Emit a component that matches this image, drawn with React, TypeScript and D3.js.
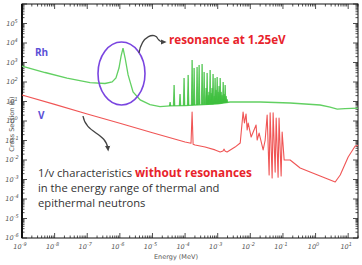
import React from 'react';
import * as d3 from 'd3';

// Rh-103 smooth cross section (energy in MeV, cross section in barn)
const rhEnergy = [1e-9, 5.1e-9, 2.4e-8, 1.22e-7, 3.5e-7, 5.8e-7, 7.6e-7, 9.4e-7, 1.09e-6, 1.25e-6, 1.45e-6, 1.79e-6, 2.54e-6, 4.2e-6, 8.4e-6, 1.7e-5, 3.5e-5, 1e-4, 1e-3, 2.4e-3, 2e-2, 0.166, 1.38, 2.8, 4.6, 8, 20];
const rhSigma = [660, 307, 160, 94, 84, 100, 160, 520, 2150, 5500, 1700, 230, 31, 12, 7.0, 5.5, 5.9, 6.2, 7.5, 9.4, 9.4, 8.4, 6.6, 5.2, 4.1, 4.3, 4.6];

// Rh-103 resolved resonance peaks (energy MeV, peak barn)
const rhPeakEnergy = [3.47e-5, 4.6e-5, 7.0e-5, 9.3e-5, 1.24e-4, 1.64e-4, 1.89e-4, 2.33e-4, 2.69e-4, 3.32e-4, 3.83e-4, 4.4e-4, 4.73e-4, 5.08e-4, 5.4e-4, 5.85e-4, 6.28e-4, 6.7e-4, 7.2e-4, 7.76e-4, 8.3e-4, 8.9e-4, 9.6e-4, 1.03e-3, 1.1e-3, 1.19e-3, 1.27e-3, 1.36e-3, 1.47e-3, 1.57e-3, 1.69e-3, 1.81e-3, 1.94e-3];
const rhPeakSigma = [9.4, 70, 24, 160, 229, 1340, 523, 588, 745, 837, 326, 49, 290, 21, 31, 412, 27, 49, 257, 19, 160, 39, 180, 31, 62, 160, 31, 21, 100, 24, 70, 19, 13];

// V-51 cross section (energy MeV, barn)
const vEnergy = [1e-9, 1e-8, 1e-7, 1e-6, 1e-5, 1e-4, 1.52e-4, 1.64e-4, 1.76e-4, 2.03e-4, 4.1e-4, 8.3e-4, 1.19e-3, 1.45e-3, 1.57e-3, 1.7e-3, 1.94e-3, 3.4e-3, 4.9e-3, 6.0e-3, 6.6e-3, 7.4e-3, 8.0e-3, 8.6e-3, 1.06e-2, 1.5e-2, 1.62e-2, 1.86e-2, 2.47e-2, 2.84e-2, 3.28e-2, 3.77e-2, 4.05e-2, 4.66e-2, 5.0e-2, 5.77e-2, 6.2e-2, 7.1e-2, 7.6e-2, 8.8e-2, 9.45e-2, 0.109, 0.166, 0.337, 0.68, 1.97, 4.0, 5.7, 10, 16.4, 20];
const vSigma = [21.5, 7.1, 2.3, 0.77, 0.25, 0.083, 0.072, 2.9, 0.065, 0.059, 0.046, 0.033, 0.026, 0.029, 0.036, 0.028, 0.026, 0.046, 0.074, 2.9, 0.8, 2.3, 0.35, 0.79, 0.15, 0.62, 0.106, 0.24, 0.033, 0.1, 2.0, 0.0017, 2.6, 0.0012, 2.6, 0.0024, 1.4, 0.0013, 1.4, 0.0015, 0.27, 0.01, 0.01, 0.0039, 0.0024, 0.0012, 0.00074, 0.0017, 0.0143, 0.052, 0.055];

const xTickExps = [-9, -8, -7, -6, -5, -4, -3, -2, -1, 0, 1];
const yTickExps = [-6, -5, -4, -3, -2, -1, 0, 1, 2, 3, 4, 5];

const W = 362;
const H = 265;
const left = 22, right = 358, top = 4, bottom = 238;

const x = d3.scaleLog().domain([1e-9, 20]).range([left, right]);
const y = d3.scaleLog().domain([1e-6, 1e6]).range([bottom, top]);

const minorValues = (lo: number, hi: number) => {
  const out: number[] = [];
  for (let e = Math.floor(Math.log10(lo)); e <= Math.ceil(Math.log10(hi)); e++) {
    for (let m = 1; m < 10; m++) {
      const v = m * Math.pow(10, e);
      if (v >= lo && v <= hi) out.push(v);
    }
  }
  return out;
};

export default function App() {
  const line = d3.line<[number, number]>()
    .x(d => x(d[0]))
    .y(d => y(d[1]));

  const rhPts = rhEnergy.map((e, i) => [e, rhSigma[i]] as [number, number]);
  const vPts = vEnergy.map((e, i) => [e, vSigma[i]] as [number, number]);
  const rhBase = d3.scaleLog().domain(rhEnergy).range(rhSigma);

  const xMinor = minorValues(1e-9, 20);
  const yMinor = minorValues(1e-6, 1e6);
  const tickColor = '#222';
  const labelFont = 'DejaVu Sans, sans-serif';

  return (
    <svg width={W} height={H} style={{ position: 'absolute', left: 0, top: 0, background: '#fff' }}>
      <defs>
        <marker id="ah" viewBox="0 0 10 10" refX="5" refY="5" markerWidth="5" markerHeight="5" orient="auto">
          <path d="M0,1 L9,5 L0,9 z" fill="#444" />
        </marker>
      </defs>

      {/* ticks */}
      {xMinor.map((v, i) => {
        const major = Math.abs(Math.log10(v) - Math.round(Math.log10(v))) < 1e-6;
        const len = major ? 5 : 2.5;
        return (
          <g key={'xt' + i} stroke={tickColor} strokeWidth={0.8}>
            <line x1={x(v)} x2={x(v)} y1={bottom} y2={bottom - len} />
            <line x1={x(v)} x2={x(v)} y1={top} y2={top + len} />
          </g>
        );
      })}
      {yMinor.map((v, i) => {
        const major = Math.abs(Math.log10(v) - Math.round(Math.log10(v))) < 1e-6;
        const len = major ? 5 : 2.5;
        return (
          <g key={'yt' + i} stroke={tickColor} strokeWidth={0.8}>
            <line x1={left} x2={left + len} y1={y(v)} y2={y(v)} />
            <line x1={right} x2={right - len} y1={y(v)} y2={y(v)} />
          </g>
        );
      })}

      {/* frame */}
      <rect x={left} y={top} width={right - left} height={bottom - top} fill="none" stroke="#111" strokeWidth={1} />
      <line x1={left} x2={left} y1={top} y2={bottom} stroke="#111" strokeWidth={2} />

      {/* tick labels */}
      {xTickExps.map(e => (
        <text key={'xl' + e} x={x(Math.pow(10, e)) - 2} y={249} fontSize={6.5} fontStyle="italic"
          fill="#555" fontFamily={labelFont} textAnchor="middle">
          10<tspan dy={-3} fontSize={5}>{e}</tspan>
        </text>
      ))}
      {yTickExps.map(e => (
        <text key={'yl' + e} x={12} y={y(Math.pow(10, e)) + 2} fontSize={6.5} fontStyle="italic"
          fill="#555" fontFamily={labelFont} textAnchor="middle">
          10<tspan dy={-3} fontSize={5}>{e}</tspan>
        </text>
      ))}
      <text x={176} y={259} fontSize={6.5} fill="#555" fontFamily={labelFont} textAnchor="middle">Energy (MeV)</text>
      <text transform="translate(14,124) rotate(-90)" fontSize={6.5} fill="#555" fontFamily={labelFont} textAnchor="middle">Cross Section (b)</text>

      {/* Rh */}
      <path d={line(rhPts) ?? ''} fill="none" stroke="#62d062" strokeWidth={1.3} />
      {rhPeakEnergy.map((e, i) => {
        const px = x(e);
        const pb = y(rhBase(e));
        const pt = y(rhPeakSigma[i]);
        return <path key={'rp' + i} d={`M${px - 0.8},${pb} L${px},${pt} L${px + 0.8},${pb}`} fill="#3cbf3c" stroke="#3cbf3c" strokeWidth={0.7} />;
      })}

      {/* V */}
      <path d={line(vPts) ?? ''} fill="none" stroke="#f05555" strokeWidth={1.1} strokeLinejoin="round" />

      {/* annotations */}
      <ellipse cx={121.5} cy={73.5} rx={23.5} ry={31.5} fill="none" stroke="#7a45e0" strokeWidth={1.6} />
      <path d="M139,53 C142,35 155,32 158,39 C160,42 162,42 164,42" fill="none" stroke="#444" strokeWidth={1.3} markerEnd="url(#ah)" />
      <text x={169} y={44} fontSize={11.7} fontWeight="bold" fill="#e8232b" fontFamily="Open Sans, sans-serif">resonance at 1.25eV</text>

      <text x={35} y={56} fontSize={10} fontWeight="bold" fill="#5a4fd6" fontFamily="Open Sans, sans-serif">Rh</text>
      <text x={38} y={119} fontSize={10} fontWeight="bold" fill="#5a4fd6" fontFamily="Open Sans, sans-serif">V</text>

      <path d="M83,116 C86,134 106,132 108,149" fill="none" stroke="#444" strokeWidth={1.3} markerEnd="url(#ah)" />
      <g fontFamily="Open Sans, sans-serif" fontSize={11.2} fill="#333">
        <text x={38} y={177}>1/v characteristics <tspan fill="#e8232b" fontWeight="bold" fontSize={11.8}>without resonances</tspan></text>
        <text x={38} y={192}>in the energy range of thermal and</text>
        <text x={38} y={207}>epithermal neutrons</text>
      </g>
    </svg>
  );
}
